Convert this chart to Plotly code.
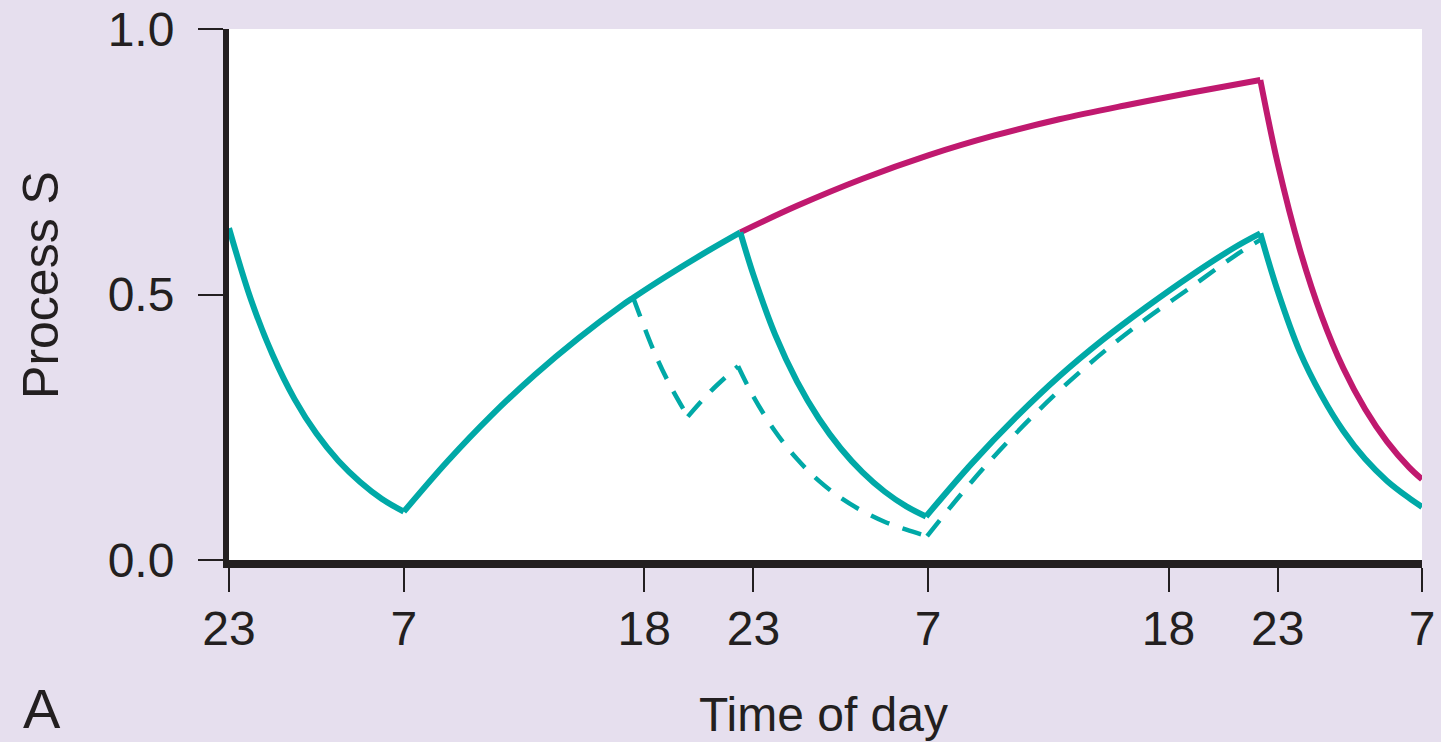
import plotly.graph_objects as go

# ---- data (hours since 23:00 on day 1, Process S level) ----
tick_hours = [0, 8, 19, 24, 32, 43, 48, 54.6]
tick_labels = ["23", "7", "18", "23", "7", "18", "23", "7"]
y_ticks = [0.0, 0.5, 1.0]
y_tick_labels = ["0.0", "0.5", "1.0"]

# normal schedule (solid teal)
sleep1_h = [0, 1, 2, 3, 4, 5, 6, 7, 8]
sleep1_s = [0.625, 0.491, 0.386, 0.303, 0.238, 0.187, 0.147, 0.115, 0.091]
wake1_h = [8, 10, 12, 14, 16, 18, 18.5, 20, 22, 23.4]
wake1_s = [0.091, 0.186, 0.272, 0.349, 0.418, 0.480, 0.494, 0.534, 0.584, 0.617]
sleep2_h = [23.4, 24, 25, 26, 27, 28, 29, 30, 31, 31.9]
sleep2_s = [0.617, 0.537, 0.424, 0.336, 0.266, 0.210, 0.165, 0.129, 0.101, 0.082]
wake2_h = [31.9, 34, 36, 38, 40, 42, 44, 46, 47.2]
wake2_s = [0.082, 0.182, 0.268, 0.346, 0.415, 0.477, 0.535, 0.588, 0.615]
sleep3_h = [47.2, 48, 49, 50, 51, 52, 53, 54, 54.6]
sleep3_s = [0.615, 0.506, 0.393, 0.310, 0.243, 0.190, 0.149, 0.117, 0.100]

# sleep deprivation (magenta)
deprived_h = [23.4, 26, 29, 32, 35, 38, 41, 44, 47.2]
deprived_s = [0.617, 0.667, 0.718, 0.762, 0.799, 0.830, 0.856, 0.880, 0.904]
recovery_h = [47.2, 48, 49, 50, 51, 52, 53, 54, 54.6]
recovery_s = [0.904, 0.746, 0.586, 0.460, 0.361, 0.284, 0.223, 0.175, 0.152]

# nap scenario (dashed teal)
nap_h = [18.5, 19.5, 20.2, 21.0]
nap_s = [0.494, 0.388, 0.328, 0.270]
postnap_h = [21.0, 22.1, 23.3]
postnap_s = [0.270, 0.320, 0.365]
napsleep_h = [23.3, 24, 25, 26, 27, 28, 29, 30, 31, 31.95]
napsleep_s = [0.365, 0.308, 0.242, 0.190, 0.149, 0.117, 0.092, 0.072, 0.057, 0.045]
napwake_h = [31.95, 34, 36, 38, 40, 42, 44, 46, 47.2]
napwake_s = [0.045, 0.148, 0.238, 0.319, 0.391, 0.455, 0.513, 0.572, 0.603]

TEAL = "#00A9A7"
MAGENTA = "#C0196F"
INK = "#231F20"
BG = "#E6DFEE"
FONT = "Liberation Sans, Arial, sans-serif"

fig = go.Figure()

def add(x, y, color, width, dash=None):
    fig.add_trace(go.Scatter(
        x=x, y=y, mode="lines",
        line=dict(color=color, width=width, shape="spline", dash=dash),
        showlegend=False, hoverinfo="skip"))

# dashed nap scenario
for hx, sy in [(nap_h, nap_s), (postnap_h, postnap_s),
               (napsleep_h, napsleep_s), (napwake_h, napwake_s)]:
    add(hx, sy, TEAL, 4.5, dash="20px,14px")

# magenta deprivation
add(deprived_h, deprived_s, MAGENTA, 6)
add(recovery_h, recovery_s, MAGENTA, 6)

# solid teal normal
for hx, sy in [(sleep1_h, sleep1_s), (wake1_h, wake1_s), (sleep2_h, sleep2_s),
               (wake2_h, wake2_s), (sleep3_h, sleep3_s)]:
    add(hx, sy, TEAL, 6)

fig.update_layout(
    width=1441, height=742,
    margin=dict(l=229, r=19, t=29, b=182, autoexpand=False),
    paper_bgcolor=BG, plot_bgcolor="white",
    font=dict(family=FONT, color=INK, size=48),
    xaxis=dict(
        range=[0, 54.6], tickmode="array", tickvals=tick_hours, ticktext=tick_labels,
        showgrid=False, zeroline=False, showline=True, linecolor=INK, linewidth=8,
        ticks="outside", ticklen=24, tickwidth=2, tickcolor=INK, automargin=False,
        ticklabelstandoff=-5, tickfont=dict(size=48, family=FONT, color=INK),
    ),
    yaxis=dict(
        range=[0, 1], tickmode="array", tickvals=y_ticks, ticktext=y_tick_labels,
        showgrid=False, zeroline=False, showline=True, linecolor=INK, linewidth=6,
        ticks="outside", ticklen=25, tickwidth=2, tickcolor=INK, automargin=False,
        ticklabelstandoff=14, tickfont=dict(size=48, family=FONT, color=INK),
    ),
    annotations=[
        dict(text="Process S", xref="paper", yref="paper", x=0, y=0.518,
             xshift=-188, textangle=-90, showarrow=False,
             xanchor="center", yanchor="middle",
             font=dict(size=50, family=FONT, color=INK)),
        dict(text="Time of day", xref="paper", yref="paper", x=0.4987, y=0,
             yshift=-154, showarrow=False, xanchor="center", yanchor="middle",
             font=dict(size=48, family=FONT, color=INK)),
        dict(text="A", xref="paper", yref="paper", x=0, y=0,
             xshift=-187, yshift=-148, showarrow=False,
             xanchor="center", yanchor="middle",
             font=dict(size=56, family=FONT, color=INK)),
    ],
)

fig.write_html("out.html")
